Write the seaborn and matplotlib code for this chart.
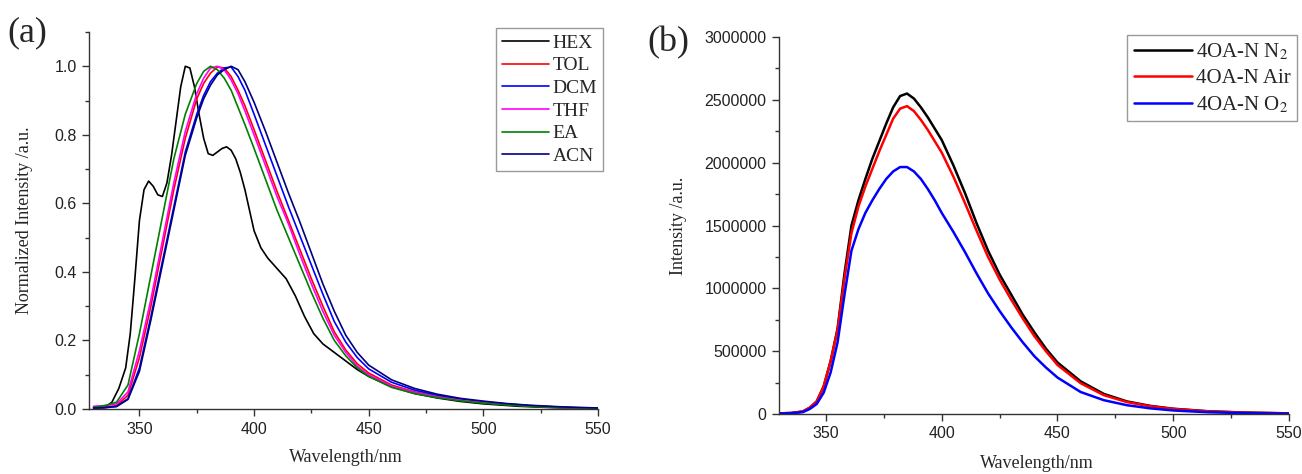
"""
Emission spectra: (a) normalized in different solvents, (b) under N2 / Air / O2.
"""

import numpy as np
import pandas as pd
import matplotlib
matplotlib.use("Agg")
import matplotlib.pyplot as plt
from matplotlib.ticker import MultipleLocator
import seaborn as sns

# ---- panel (a): normalized spectra ----
wl_a = [330, 335, 340, 345, 350, 355, 360, 365, 370, 375, 378, 381, 384, 387,
        390, 393, 396, 400, 405, 410, 415, 420, 425, 430, 435, 440, 445, 450,
        460, 470, 480, 490, 500, 510, 520, 535, 550]

tol = [0.003, 0.005, 0.01, 0.04, 0.15, 0.30, 0.47, 0.64, 0.79, 0.905, 0.95, 0.98,
       0.998, 0.995, 0.97, 0.93, 0.885, 0.815, 0.725, 0.635, 0.55, 0.465, 0.38,
       0.30, 0.225, 0.172, 0.132, 0.105, 0.07, 0.05, 0.036, 0.027, 0.02, 0.014,
       0.009, 0.004, 0.002]
dcm = [0.003, 0.004, 0.008, 0.03, 0.12, 0.27, 0.43, 0.59, 0.75, 0.86, 0.915, 0.955,
       0.98, 0.995, 0.998, 0.97, 0.93, 0.86, 0.77, 0.68, 0.59, 0.505, 0.42, 0.335,
       0.255, 0.195, 0.15, 0.117, 0.078, 0.055, 0.04, 0.029, 0.021, 0.015, 0.01,
       0.005, 0.002]
thf = [0.008, 0.01, 0.015, 0.05, 0.17, 0.32, 0.49, 0.66, 0.81, 0.92, 0.965, 0.995,
       1.0, 0.99, 0.96, 0.92, 0.87, 0.80, 0.71, 0.62, 0.54, 0.45, 0.365, 0.285,
       0.215, 0.165, 0.125, 0.10, 0.067, 0.048, 0.035, 0.026, 0.019, 0.013, 0.009,
       0.004, 0.002]
ea = [0.005, 0.01, 0.02, 0.07, 0.22, 0.39, 0.56, 0.73, 0.86, 0.95, 0.985, 1.0,
      0.99, 0.965, 0.93, 0.88, 0.83, 0.76, 0.67, 0.58, 0.50, 0.42, 0.34, 0.265,
      0.20, 0.155, 0.12, 0.095, 0.063, 0.045, 0.033, 0.024, 0.017, 0.012, 0.008,
      0.004, 0.002]
acn = [0.003, 0.004, 0.007, 0.028, 0.11, 0.26, 0.42, 0.58, 0.74, 0.85, 0.905, 0.945,
       0.975, 0.99, 1.0, 0.99, 0.955, 0.895, 0.81, 0.72, 0.63, 0.545, 0.455, 0.365,
       0.285, 0.215, 0.165, 0.128, 0.085, 0.06, 0.043, 0.031, 0.023, 0.016, 0.011,
       0.006, 0.003]

wl_hex = [330, 335, 338, 341, 344, 346, 348, 350, 352, 354, 356, 358, 360, 362,
          364, 366, 368, 370, 372, 374, 376, 378, 380, 382, 384, 386, 388, 390,
          392, 394, 396, 398, 400, 403, 406, 410, 414, 418, 422, 426, 430, 435,
          440, 445, 450, 460, 470, 480, 490, 500, 515, 530, 550]
hex_ = [0.003, 0.005, 0.02, 0.06, 0.12, 0.22, 0.38, 0.55, 0.64, 0.665, 0.65, 0.625,
        0.62, 0.66, 0.74, 0.84, 0.94, 1.0, 0.995, 0.94, 0.86, 0.79, 0.745, 0.74,
        0.75, 0.76, 0.765, 0.755, 0.73, 0.69, 0.64, 0.58, 0.52, 0.47, 0.44, 0.41,
        0.38, 0.33, 0.27, 0.22, 0.19, 0.165, 0.14, 0.115, 0.095, 0.065, 0.045,
        0.032, 0.022, 0.015, 0.008, 0.004, 0.001]

solventes = ["HEX", "TOL", "DCM", "THF", "EA", "ACN"]
cores_a = ["#000000", "#ff0000", "#0000ff", "#ff00ff", "#008000", "#000080"]

# ---- panel (b): intensity under atmospheres ----
wl_b = [330, 335, 340, 343, 346, 349, 352, 355, 358, 361, 364, 367, 370, 373, 376,
        379, 382, 385, 388, 391, 394, 397, 400, 405, 410, 415, 420, 425, 430, 435,
        440, 445, 450, 460, 470, 480, 490, 500, 515, 530, 550]

n2 = [0.005, 0.008, 0.02, 0.05, 0.10, 0.22, 0.42, 0.68, 1.12, 1.50, 1.70, 1.87,
      2.03, 2.17, 2.31, 2.44, 2.53, 2.55, 2.51, 2.44, 2.36, 2.27, 2.18, 1.98, 1.76,
      1.52, 1.30, 1.11, 0.95, 0.79, 0.65, 0.52, 0.41, 0.26, 0.16, 0.10, 0.065,
      0.042, 0.022, 0.012, 0.005]
air = [0.005, 0.008, 0.02, 0.05, 0.10, 0.22, 0.42, 0.67, 1.08, 1.44, 1.65, 1.81,
       1.95, 2.09, 2.22, 2.35, 2.43, 2.45, 2.41, 2.34, 2.26, 2.17, 2.08, 1.89, 1.68,
       1.46, 1.25, 1.07, 0.91, 0.76, 0.62, 0.50, 0.39, 0.245, 0.15, 0.095, 0.062,
       0.04, 0.021, 0.011, 0.005]
o2 = [0.004, 0.006, 0.015, 0.04, 0.08, 0.17, 0.33, 0.57, 0.95, 1.30, 1.47, 1.60,
      1.70, 1.79, 1.87, 1.93, 1.965, 1.965, 1.93, 1.87, 1.79, 1.70, 1.60, 1.45,
      1.29, 1.12, 0.96, 0.82, 0.69, 0.57, 0.46, 0.37, 0.29, 0.175, 0.11, 0.07,
      0.045, 0.028, 0.014, 0.007, 0.003]

atmosferas = ["4OA-N N$_2$", "4OA-N Air", "4OA-N O$_2$"]
cores_b = ["#000000", "#ff0000", "#0000ff"]

sns.set_theme(style="ticks")
plt.rcParams["font.family"] = ["Liberation Sans", "DejaVu Sans"]
plt.rcParams["mathtext.fontset"] = "stix"

SERIF = ["Liberation Serif", "DejaVu Serif"]


def montar_df_a():
    partes = [pd.DataFrame({"wl": wl_hex, "val": hex_, "serie": "HEX"})]
    for nome, vals in zip(solventes[1:], [tol, dcm, thf, ea, acn]):
        partes.append(pd.DataFrame({"wl": wl_a, "val": vals, "serie": nome}))
    return pd.concat(partes, ignore_index=True)


def montar_df_b():
    partes = []
    for nome, vals in zip(atmosferas, [n2, air, o2]):
        partes.append(pd.DataFrame({"wl": wl_b, "val": np.array(vals) * 1e6,
                                    "serie": nome}))
    return pd.concat(partes, ignore_index=True)


def estilo_eixo(ax):
    sns.despine(ax=ax)
    for s in ["left", "bottom"]:
        ax.spines[s].set_color("#333333")
        ax.spines[s].set_linewidth(1.0)
    ax.tick_params(which="major", direction="out", length=5, width=1,
                   color="#333333", labelsize=11.5, labelcolor="#222222", pad=4)
    ax.tick_params(which="minor", direction="out", length=3, width=1,
                   color="#333333")


def legenda(ax, tamanho, **kw):
    leg = ax.legend(prop={"family": SERIF, "size": tamanho}, frameon=True,
                    fancybox=False, framealpha=1, edgecolor="#999999",
                    borderpad=0.3, handletextpad=0.2, borderaxespad=0, **kw)
    leg.get_frame().set_linewidth(1.0)
    return leg


fig = plt.figure(figsize=(13.02, 4.74), dpi=100)

# (a)
ax1 = fig.add_axes([89 / 1302, 1 - 409 / 474, (598 - 89) / 1302, (409 - 32) / 474])
df_a = montar_df_a()
sns.lineplot(data=df_a, x="wl", y="val", hue="serie", hue_order=solventes,
             palette=cores_a, linewidth=1.2, ax=ax1, sort=False)
ax1.set_xlim(328, 550)
ax1.set_ylim(0, 1.1)
ax1.xaxis.set_major_locator(MultipleLocator(50))
ax1.xaxis.set_minor_locator(MultipleLocator(25))
ax1.yaxis.set_major_locator(MultipleLocator(0.2))
ax1.yaxis.set_minor_locator(MultipleLocator(0.1))
ax1.yaxis.set_major_formatter(lambda v, p: f"{v:.1f}")
estilo_eixo(ax1)
ax1.set_xlabel("Wavelength/nm", family=SERIF, fontsize=13)
ax1.set_ylabel("Normalized Intensity /a.u.", family=SERIF, fontsize=13)
ax1.xaxis.set_label_coords(0.505, -0.105)
ax1.yaxis.set_label_coords(-0.11, 0.5)
legenda(ax1, 14, loc="upper right", bbox_to_anchor=(1.01, 1.01),
        handlelength=2.4, labelspacing=0.26)

# (b)
ax2 = fig.add_axes([779 / 1302, 1 - 414 / 474, (1289 - 779) / 1302, (414 - 37) / 474])
df_b = montar_df_b()
sns.lineplot(data=df_b, x="wl", y="val", hue="serie", hue_order=atmosferas,
             palette=cores_b, linewidth=1.8, ax=ax2, sort=False)
ax2.set_xlim(329.7, 550)
ax2.set_ylim(0, 3000000)
ax2.xaxis.set_major_locator(MultipleLocator(50))
ax2.xaxis.set_minor_locator(MultipleLocator(25))
ax2.yaxis.set_major_locator(MultipleLocator(500000))
ax2.yaxis.set_minor_locator(MultipleLocator(250000))
ax2.yaxis.set_major_formatter(lambda v, p: f"{int(v)}")
estilo_eixo(ax2)
ax2.set_xlabel("Wavelength/nm", family=SERIF, fontsize=13)
ax2.set_ylabel("Intensity /a.u.", family=SERIF, fontsize=13)
ax2.xaxis.set_label_coords(0.505, -0.108)
ax2.yaxis.set_label_coords(-0.18, 0.5)
legenda(ax2, 15, loc="upper right", bbox_to_anchor=(1.016, 1.005),
        handlelength=2.8, labelspacing=0.3)

fig.text(0.006, 0.93, "(a)", family=SERIF, fontsize=26, va="center", ha="left")
fig.text(0.497, 0.91, "(b)", family=SERIF, fontsize=26, va="center", ha="left")

fig.savefig("out.png", dpi=100)
plt.close(fig)
